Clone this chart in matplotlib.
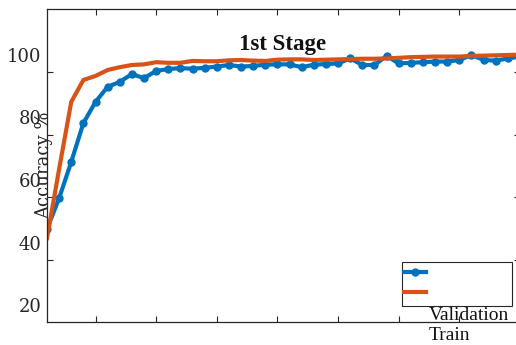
import matplotlib
matplotlib.use('Agg')
import matplotlib.pyplot as plt
import matplotlib.transforms as mtransforms
import numpy as np

# epochs 1..40
epochs = np.arange(1, 41)

validation = [44.3, 54.2, 65.8, 78.2, 85.0, 89.8, 91.4, 93.9, 92.6, 94.9,
              95.5, 95.8, 95.6, 95.9, 96.3, 96.8, 96.3, 96.5, 96.9, 97.0,
              97.0, 96.1, 96.9, 97.1, 97.3, 98.9, 96.8, 96.8, 99.7, 97.3,
              97.5, 97.7, 97.9, 97.9, 98.4, 100.0, 98.4, 98.2, 98.9, 99.5]
train = [41.4, 63.5, 85.0, 92.0, 93.3, 95.2, 96.1, 96.8, 97.0, 97.7,
         97.5, 97.5, 98.1, 98.0, 98.0, 98.3, 98.4, 98.2, 98.1, 98.5,
         98.6, 98.6, 98.4, 98.5, 98.6, 98.7, 98.8, 98.8, 98.9, 99.1,
         99.3, 99.4, 99.5, 99.5, 99.5, 99.7, 99.8, 99.9, 100.0, 100.1]

ytick_vals = [20, 40, 60, 80, 100]
ytick_marks = [34.56, 54.56, 74.56, 94.56]
xtick_vals = [5, 10, 15, 20, 25, 30, 35]

blue = '#0072BD'
orange = '#D95319'
dark = '#262626'

plt.rcParams['font.family'] = 'DejaVu Serif'

fig = plt.figure(figsize=(5.16, 3.45), dpi=100)
ax = fig.add_axes([47 / 516, 1 - 322 / 345, 473 / 516, 313 / 345])

ax.plot(epochs, validation, color=blue, lw=3, marker='o', ms=5, label='Validation')
ax.plot(epochs, train, color=orange, lw=3, label='Train')

ax.set_xlim(1, 40)
ax.set_ylim(14.56, 114.72)

ax.set_xticks(xtick_vals)
ax.set_xticklabels([])
ax.set_yticks(ytick_vals)
ax.set_yticks(ytick_marks, minor=True)
ax.tick_params(axis='both', which='both', direction='in', top=True, right=True,
               color=dark, width=0.8)
ax.tick_params(axis='x', which='major', length=4)
ax.tick_params(axis='y', which='major', length=0, labelsize=13, labelcolor=dark, pad=4)
ax.tick_params(axis='y', which='minor', length=4)
for s in ax.spines.values():
    s.set_color(dark)
    s.set_linewidth(0.9)

ax.set_ylabel('Accuracy %', fontsize=13, color=dark, va='center')
ax.yaxis.set_label_coords(-0.006, 0.5016)

ax.text(0.497, 0.869, '1st Stage', transform=ax.transAxes, ha='center', va='baseline',
        fontsize=16.5, fontweight='bold', family='Liberation Serif', color='#111111')

leg = ax.legend(loc='lower right', bbox_to_anchor=(0.983, 0.051), borderaxespad=0,
                prop={'family': 'Liberation Serif', 'size': 14}, fancybox=False,
                framealpha=1, edgecolor=dark, handlelength=1.1, handletextpad=0.15,
                borderpad=0.15, labelspacing=0.15)
leg.get_frame().set_linewidth(0.8)
shift = mtransforms.ScaledTranslation(0, -0.41, fig.dpi_scale_trans)
for t in leg.get_texts():
    t.set_color('#111111')
    t.set_transform(t.get_transform() + shift)

fig.savefig('out.png', dpi=100)
